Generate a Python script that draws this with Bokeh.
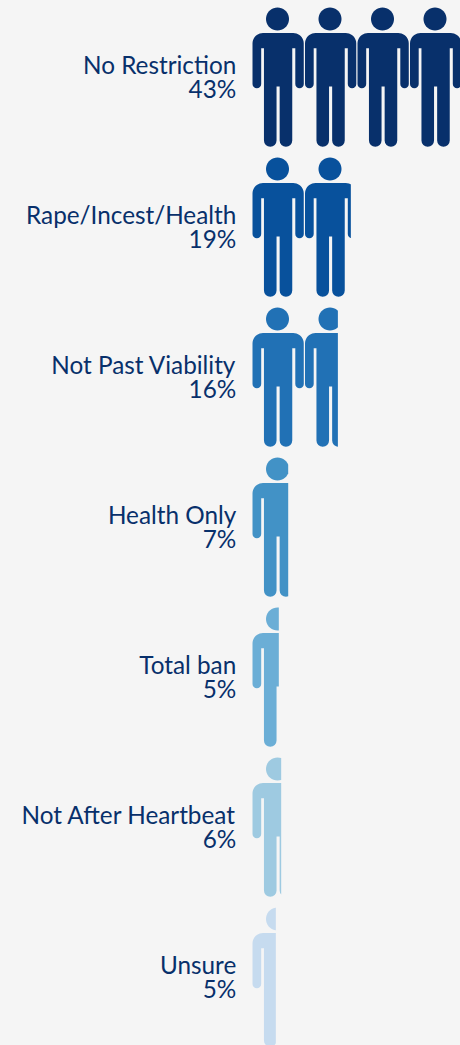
import math
from bokeh.plotting import figure
from bokeh.models import Range1d, ColumnDataSource
from bokeh.core.properties import value
from bokeh.embed import file_html
from bokeh.resources import INLINE

categories = ["No Restriction", "Rape/Incest/Health", "Not Past Viability", "Health Only", "Total ban", "Not After Heartbeat", "Unsure"]
percent_labels = ["43%", "19%", "16%", "7%", "5%", "6%", "5%"]
shares = [43.0, 18.97, 16.5, 7.04, 5.25, 5.7, 4.68]
colors = ["#08306b", "#08519c", "#2171b5", "#4292c6", "#6baed6", "#9ecae1", "#c6dbef"]
BG = "#f5f5f5"
TEXT = "#08306b"
FONT = "Lato"

W, H = 460, 1045
PX_PER_PCT = 5.25
PX_PER_ROW = 150.0
X0 = 250.75
Y0 = 7.0
PCT_PER_PERSON = 10


def arc(cx, cy, r, a0, a1, n=10):
    return [(cx + r * math.cos(math.radians(a0 + (a1 - a0) * i / n)),
             cy + r * math.sin(math.radians(a0 + (a1 - a0) * i / n))) for i in range(n + 1)]


def body_outline():
    # icon template in px, x from the icon-cell left edge, y from the head top
    pts = []
    pts += arc(11.75, 36, 10.5, 180, 270)
    pts += arc(42, 36, 10.5, 270, 360)
    pts += arc(48.3, 76.5, 4.25, 0, 180, 8)
    pts += [(44.05, 40.7), (41, 40.7), (41, 133)]
    pts += arc(34.7, 133, 6.3, 0, 180, 8)
    pts += [(28.4, 79), (25.3, 79), (25.3, 133)]
    pts += arc(19, 133, 6.3, 0, 180, 8)
    pts += [(12.7, 40.7), (9.95, 40.7)]
    pts += arc(5.6, 76.5, 4.35, 0, 180, 8)
    return pts


def head_outline():
    return arc(26.25, 11.5, 11.5, 0, 360, 36)[:-1]


def clip_right(poly, xmax):
    out = []
    for i, (x1, y1) in enumerate(poly):
        x2, y2 = poly[(i + 1) % len(poly)]
        in1, in2 = x1 <= xmax, x2 <= xmax
        if in1:
            out.append((x1, y1))
        if in1 != in2:
            t = (xmax - x1) / (x2 - x1)
            out.append((xmax, y1 + t * (y2 - y1)))
    return out


xs, ys, fills = [], [], []
for row, (share, col) in enumerate(zip(shares, colors)):
    n_people = math.ceil(share / PCT_PER_PERSON)
    for k in range(n_people):
        limit_px = (share - k * PCT_PER_PERSON) * PX_PER_PCT
        for shape in (head_outline(), body_outline()):
            poly = clip_right(shape, limit_px)
            if len(poly) < 3:
                continue
            xs.append([k * PCT_PER_PERSON + px / PX_PER_PCT for px, _ in poly])
            ys.append([row + py / PX_PER_ROW for _, py in poly])
            fills.append(col)

p = figure(width=W, height=H, output_backend="svg", toolbar_location=None,
           x_range=Range1d(-X0 / PX_PER_PCT, (W - X0) / PX_PER_PCT),
           y_range=Range1d((H - Y0) / PX_PER_ROW, -Y0 / PX_PER_ROW),
           min_border=0, background_fill_color=BG, border_fill_color=BG, outline_line_color=None)
p.axis.visible = False
p.grid.visible = False
p.patches(xs, ys, fill_color=fills, line_color=None)

src = ColumnDataSource(dict(x=[0.0] * len(categories), y=list(range(len(categories))), cat=categories, pct=percent_labels))
common = dict(x="x", y="y", source=src, text_align="right", text_baseline="alphabetic", text_color=TEXT,
              text_font=value(FONT), text_font_size="24.3px", x_offset=-15)
p.text(text="cat", y_offset=56.5, **common)
p.text(text="pct", y_offset=80.5, **common)

html = file_html(p, INLINE)
html = html.replace("</head>", f"<style>html,body{{margin:0;background:{BG};overflow:hidden}}</style></head>")
open("out.html", "w").write(html)
